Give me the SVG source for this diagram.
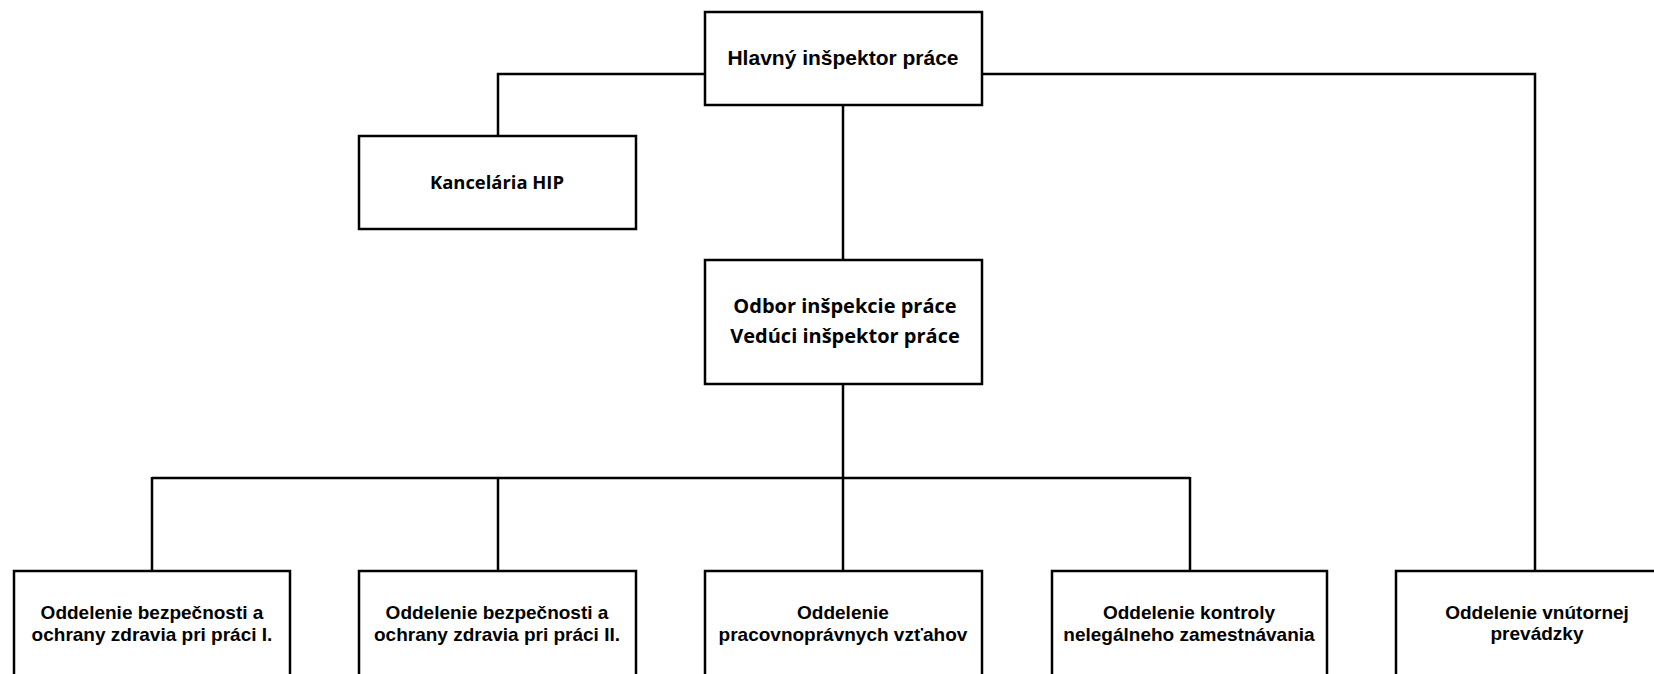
<svg xmlns="http://www.w3.org/2000/svg" width="1654" height="674" viewBox="0 0 1654 674">
<style>
.box{fill:#fff;stroke:#000;stroke-width:2.5}
.con{fill:none;stroke:#000;stroke-width:2.5}
.a{font-family:"Liberation Sans",Arial,sans-serif;font-weight:bold;font-size:19px;fill:#000;text-anchor:middle}
.c{font-family:"Open Sans","Noto Sans",sans-serif;font-weight:bold;font-size:20px;fill:#000;text-anchor:middle}
</style>
<rect width="1654" height="674" fill="#fff"/>
<g id="connectors">
<polyline class="con" points="705,74 498,74 498,136"/>
<polyline class="con" points="982,74 1535,74 1535,571"/>
<line class="con" x1="843" y1="105" x2="843" y2="260"/>
<line class="con" x1="843" y1="384" x2="843" y2="571"/>
<line class="con" x1="152" y1="478" x2="1190" y2="478"/>
<line class="con" x1="152" y1="477" x2="152" y2="571"/>
<line class="con" x1="498" y1="478" x2="498" y2="571"/>
<line class="con" x1="1190" y1="477" x2="1190" y2="571"/>
</g>
<g id="hip">
<rect class="box" x="705" y="12" width="277" height="93"/>
<text class="a" x="843" y="65" style="font-size:21px">Hlavný inšpektor práce</text>
</g>
<g id="kancelaria">
<rect class="box" x="359" y="136" width="277" height="93"/>
<text class="c" x="497" y="189" style="font-size:18.4px">Kancelária HIP</text>
</g>
<g id="odbor">
<rect class="box" x="705" y="260" width="277" height="124"/>
<text class="c" x="845" y="313">Odbor inšpekcie práce</text>
<text class="c" x="845" y="343">Vedúci inšpektor práce</text>
</g>
<g id="bozp1">
<rect class="box" x="14" y="571" width="276" height="130"/>
<text class="a" x="152" y="619">Oddelenie bezpečnosti a</text>
<text class="a" x="152" y="641">ochrany zdravia pri práci I.</text>
</g>
<g id="bozp2">
<rect class="box" x="359" y="571" width="277" height="130"/>
<text class="a" x="497" y="619">Oddelenie bezpečnosti a</text>
<text class="a" x="497" y="641">ochrany zdravia pri práci II.</text>
</g>
<g id="pracovnopravne">
<rect class="box" x="705" y="571" width="277" height="130"/>
<text class="a" x="843" y="619">Oddelenie</text>
<text class="a" x="843" y="641">pracovnoprávnych vzťahov</text>
</g>
<g id="nelegalne">
<rect class="box" x="1052" y="571" width="275" height="130"/>
<text class="a" x="1189" y="619">Oddelenie kontroly</text>
<text class="a" x="1189" y="641">nelegálneho zamestnávania</text>
</g>
<g id="vnutorna">
<rect class="box" x="1396" y="571" width="300" height="130"/>
<text class="a" x="1537" y="619">Oddelenie vnútornej</text>
<text class="a" x="1537" y="640">prevádzky</text>
</g>
</svg>
